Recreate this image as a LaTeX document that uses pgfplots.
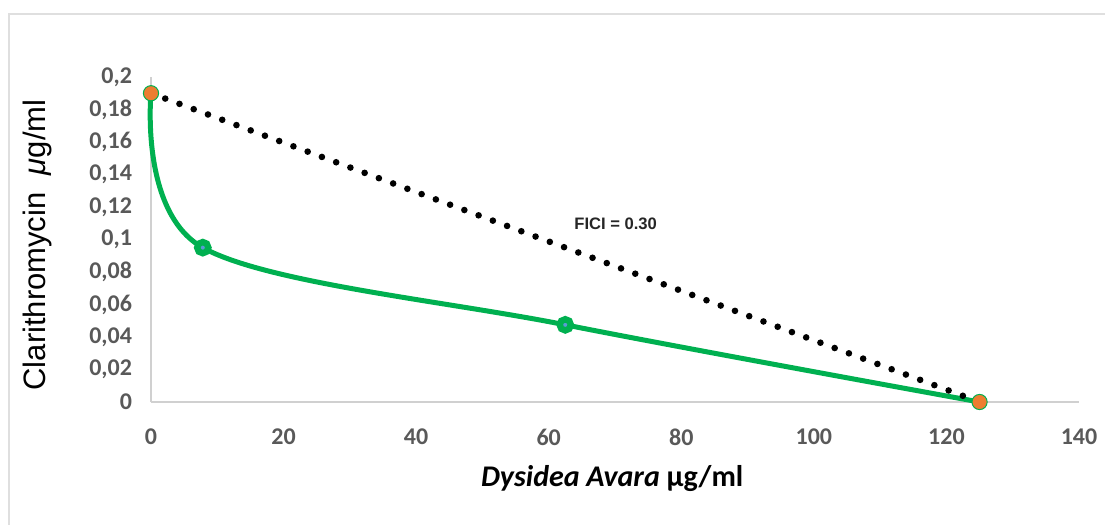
\documentclass[border=0pt]{standalone}
\usepackage{fontspec}
\setmainfont{Carlito}
\newfontfamily\arialfont{Liberation Sans}
\usepackage{pgfplots}
\pgfplotsset{compat=1.18}
\definecolor{isogreen}{HTML}{00B050}
\definecolor{isoorange}{HTML}{ED7D31}
\definecolor{isoblue}{HTML}{5B9BD5}
\definecolor{ticktext}{HTML}{595959}
\definecolor{axisgray}{HTML}{D0D0D0}

\begin{document}
\begin{tikzpicture}
  \useasboundingbox (-75.5pt,-61.5pt) rectangle (477pt,201pt);
  % chart area frame (runs off the right and bottom edges)
  \draw[gray!25, line width=1.2pt] (-71pt,-62pt) -- (-71pt,194pt) -- (478pt,194pt);
  \begin{axis}[
      at={(0,0)}, anchor=south west,
      scale only axis, width=464pt, height=162.5pt,
      xmin=0, xmax=140, ymin=0, ymax=0.2,
      clip=false,
      xtick={0,20,40,60,80,100,120,140},
      ytick={0,0.02,0.04,0.06,0.08,0.1,0.12,0.14,0.16,0.18,0.2},
      axis lines=left,
      axis line style={-, draw=axisgray, line width=0.8pt},
      major tick length=0pt,
      tick label style={font=\fontsize{12}{14}\selectfont\bfseries, text=ticktext},
      /pgf/number format/use comma,
      /pgf/number format/fixed,
      /pgf/number format/assume math mode=true,
      xticklabel style={yshift=-10pt},
      yticklabel style={xshift=-6pt},
      xlabel={\textit{Dysidea Avara} μg/ml},
      xlabel style={font=\fontsize{15}{18}\selectfont\bfseries,
        at={(axis description cs:0.497,-0.234)}, anchor=center},
      ylabel={\arialfont Clarithromycin\ \ \textit{μ}g/ml},
      ylabel style={font=\fontsize{15.5}{18}\selectfont,
        at={(axis description cs:-0.1218,0.483)}, anchor=center},
    ]
    % isobologram
    \addplot[isogreen, line width=2.5pt, smooth, tension=0.55,
      mark=*, mark indices={2,3}, mark size=2.8pt,
      mark options={fill=isoblue, draw=isogreen, line width=3.2pt}]
      coordinates {(0,0.19)(7.8125,0.095)(62.5,0.0475)(125,0)};
    % MICs alone
    \addplot[only marks, mark=*, mark size=3.8pt,
      mark options={fill=isoorange, draw=isogreen, line width=0.5pt}]
      coordinates {(0,0.19)(125,0)};
    % additivity line
    \addplot[black, line width=3.3pt, line cap=round,
      dash pattern=on 0pt off 7.6pt]
      coordinates {(0,0.19)(125,0)};
    \node[font=\arialfont\bfseries\fontsize{8.3}{10}\selectfont, text=black!85]
      at (axis cs:70.1,0.1095) {FICI = 0.30};
  \end{axis}
\end{tikzpicture}
\end{document}
